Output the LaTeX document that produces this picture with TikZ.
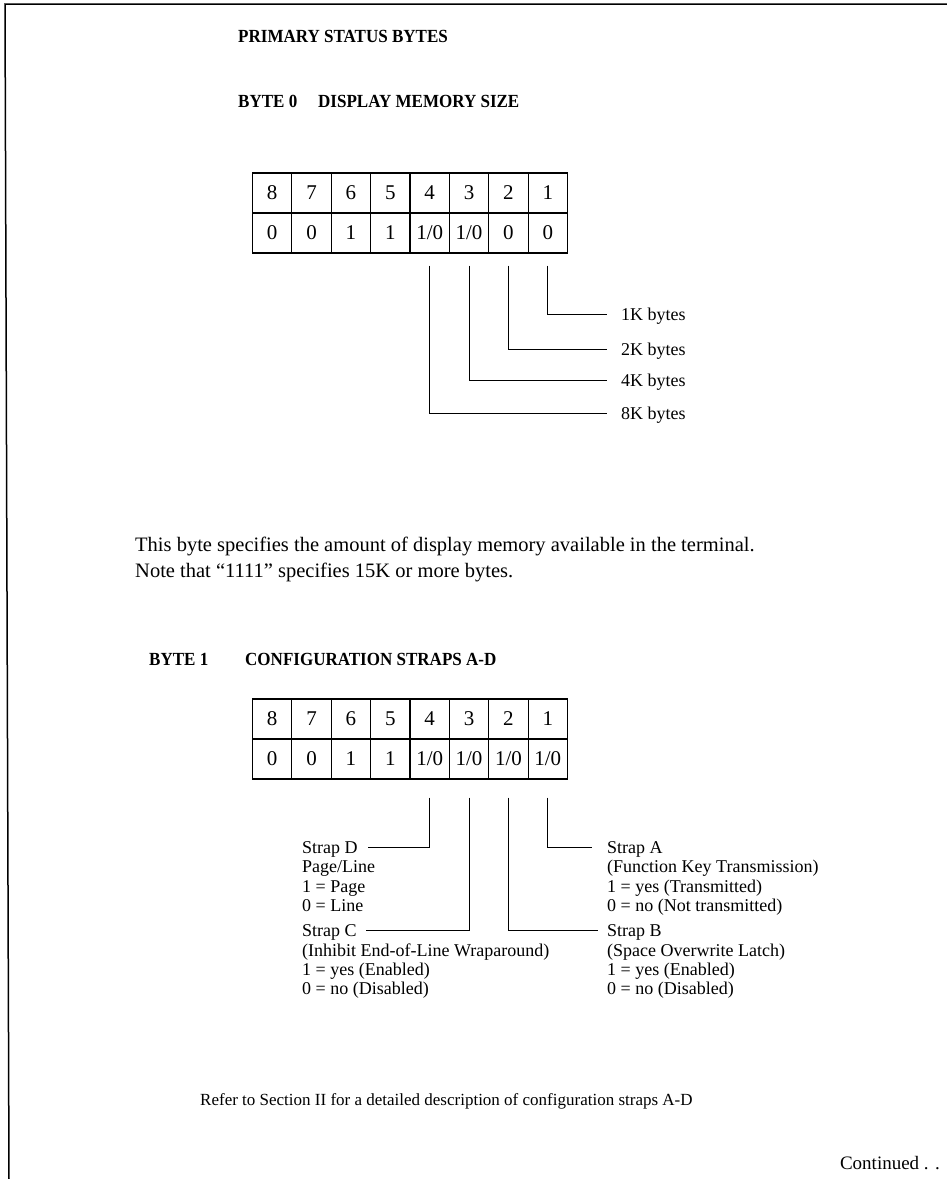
\documentclass[tikz,border=0pt]{standalone}
\usepackage{fontspec}
\setmainfont{Liberation Serif}
\newfontfamily\headfont[FakeStretch=0.92]{Liberation Serif}
\usetikzlibrary{calc}
\begin{document}
\begin{tikzpicture}[x=1pt,y=-1pt,
  cell/.style={draw, line width=1.1pt, minimum width=39.375pt, minimum height=40pt, inner sep=0pt, font=\fontsize{21}{21}\selectfont},
  conn/.style={line width=1pt},
  lbl/.style={anchor=base west, inner sep=0pt, font=\fontsize{18}{20}\selectfont},
  head/.style={anchor=base west, inner sep=0pt, font=\headfont\fontsize{18.5}{20}\selectfont\bfseries},
  body/.style={anchor=base west, inner sep=0pt, font=\fontsize{20.5}{21}\selectfont},
  strap/.style={anchor=base west, inner sep=0pt, font=\fontsize{18}{20}\selectfont}]
\useasboundingbox (0,0) rectangle (947,1179);
\draw[line width=1.5pt] (947,4) -- (5,4) -- (9,1179);

% headings
\node[head] (title) at (238,42) {PRIMARY STATUS BYTES};
\node[head] (b0name) at (238,107) {BYTE 0};
\node[head] (b0desc) at (318,107) {DISPLAY MEMORY SIZE};

% byte 0 table
\foreach \n/\v [count=\k from 0] in {8/0,7/0,6/1,5/1,4/1\slash 0,3/1\slash 0,2/0,1/0}{
  \node[cell] (b0h\n) at ({252.5+39.375*(\k+0.5)},193) {\n};
  \node[cell] (b0v\n) at ({252.5+39.375*(\k+0.5)},233) {\v};
}

% byte 0 labels
\node[lbl] (k1) at (621,320) {1K bytes};
\node[lbl] (k2) at (621,355) {2K bytes};
\node[lbl] (k4) at (621,386) {4K bytes};
\node[lbl] (k8) at (621,419) {8K bytes};
\coordinate (e1) at (607,314);
\coordinate (e2) at (607,349);
\coordinate (e4) at (607,380);
\coordinate (e8) at (607,413);
\draw[conn] ($(b0v1.south)+(0,12)$) |- (e1);
\draw[conn] ($(b0v2.south)+(0,12)$) |- (e2);
\draw[conn] ($(b0v3.south)+(0,12)$) |- (e4);
\draw[conn] ($(b0v4.south)+(0,12)$) |- (e8);

% byte 0 text
\node[body] (t1) at (135,551) {This byte specifies the amount of display memory available in the terminal.};
\node[body] (t2) at (135,577) {Note that ``1111'' specifies 15K or more bytes.};

% byte 1 headings
\node[head] (b1name) at (149,665) {BYTE 1};
\node[head] (b1desc) at (245,665) {CONFIGURATION STRAPS A-D};

% byte 1 table
\foreach \n/\v [count=\k from 0] in {8/0,7/0,6/1,5/1,4/1\slash 0,3/1\slash 0,2/1\slash 0,1/1\slash 0}{
  \node[cell] (b1h\n) at ({252.5+39.375*(\k+0.5)},719) {\n};
  \node[cell] (b1v\n) at ({252.5+39.375*(\k+0.5)},759) {\v};
}

% strap texts left
\node[strap] (sD)  at (302,853) {Strap D};
\node[strap] (sD1) at (302,872) {Page/Line};
\node[strap] (sD2) at (302,892) {1 = Page};
\node[strap] (sD3) at (302,911) {0 = Line};
\node[strap] (sC)  at (302,936) {Strap C};
\node[strap] (sC1) at (302,956) {(Inhibit End-of-Line Wraparound)};
\node[strap] (sC2) at (302,975) {1 = yes (Enabled)};
\node[strap] (sC3) at (302,994) {0 = no (Disabled)};
% strap texts right
\node[strap] (sA)  at (607,853) {Strap A};
\node[strap] (sA1) at (607,872) {(Function Key Transmission)};
\node[strap] (sA2) at (607,892) {1 = yes (Transmitted)};
\node[strap] (sA3) at (607,911) {0 = no (Not transmitted)};
\node[strap] (sB)  at (607,936) {Strap B};
\node[strap] (sB1) at (607,956) {(Space Overwrite Latch)};
\node[strap] (sB2) at (607,975) {1 = yes (Enabled)};
\node[strap] (sB3) at (607,994) {0 = no (Disabled)};

\coordinate (eD) at (368,847);
\coordinate (eC) at (366,930);
\coordinate (eA) at (592,847);
\coordinate (eB) at (598,930);
\draw[conn] ($(b1v4.south)+(0,18)$) |- (eD);
\draw[conn] ($(b1v3.south)+(0,18)$) |- (eC);
\draw[conn] ($(b1v1.south)+(0,18)$) |- (eA);
\draw[conn] ($(b1v2.south)+(0,18)$) |- (eB);

% bottom
\node[body, font=\fontsize{17}{18}\selectfont] (ref) at (200,1105) {Refer to Section II for a detailed description of configuration straps A-D};
\node[anchor=base east, inner sep=0pt, font=\fontsize{19}{20}\selectfont] (cont) at (940,1169) {Continued . .};
\end{tikzpicture}
\end{document}
